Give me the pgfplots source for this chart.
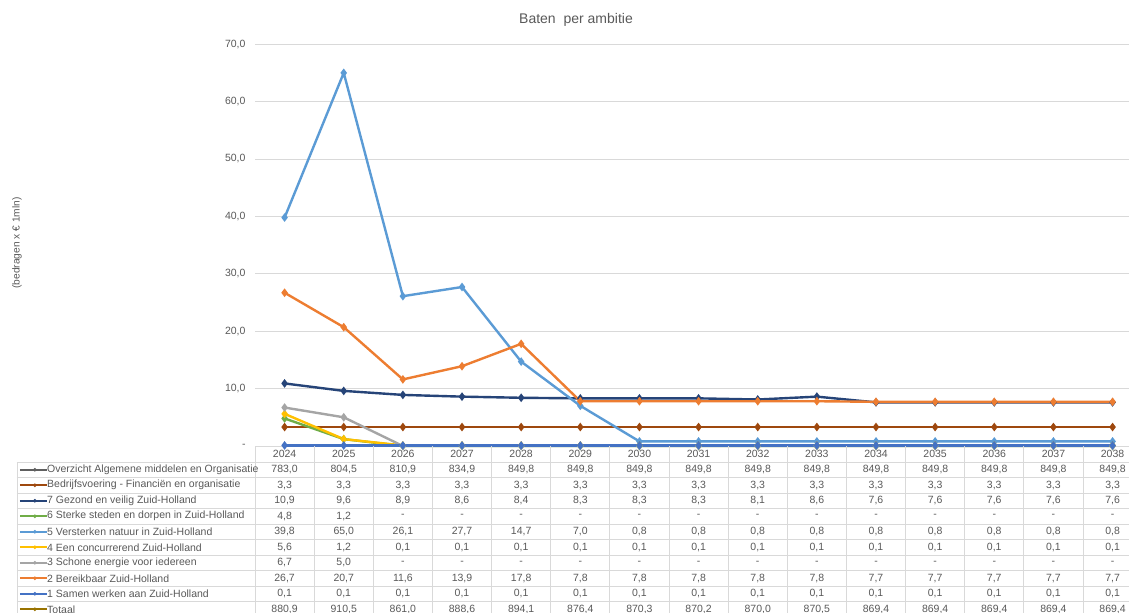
\documentclass[border=0pt]{standalone}
\usepackage{pgfplots}
\usepackage{pgfplotstable}
\pgfplotsset{compat=1.18}
\usepackage{fontspec}
\setmainfont{Liberation Sans}
\pgfkeys{/pgf/number format/assume math mode=true}

\definecolor{ovz}{HTML}{5F5F5F}
\definecolor{bed}{HTML}{9E480E}
\definecolor{g7}{HTML}{264478}
\definecolor{s6}{HTML}{70AD47}
\definecolor{n5}{HTML}{5B9BD5}
\definecolor{e4}{HTML}{FFC000}
\definecolor{s3}{HTML}{A5A5A5}
\definecolor{b2}{HTML}{ED7D31}
\definecolor{s1}{HTML}{4472C4}
\definecolor{tot}{HTML}{997300}
\definecolor{txtgray}{HTML}{595959}
\definecolor{gridgray}{HTML}{D9D9D9}

% baten per ambitie (bedragen x 1 mln), 0 = "-"
\pgfplotstableread{
year ovz bed g7 s6 n5 e4 s3 b2 s1 tot
2024 783.0 3.3 10.9 4.8 39.8 5.6 6.7 26.7 0.1 880.9
2025 804.5 3.3 9.6 1.2 65.0 1.2 5.0 20.7 0.1 910.5
2026 810.9 3.3 8.9 0 26.1 0.1 0 11.6 0.1 861.0
2027 834.9 3.3 8.6 0 27.7 0.1 0 13.9 0.1 888.6
2028 849.8 3.3 8.4 0 14.7 0.1 0 17.8 0.1 894.1
2029 849.8 3.3 8.3 0 7.0 0.1 0 7.8 0.1 876.4
2030 849.8 3.3 8.3 0 0.8 0.1 0 7.8 0.1 870.3
2031 849.8 3.3 8.3 0 0.8 0.1 0 7.8 0.1 870.2
2032 849.8 3.3 8.1 0 0.8 0.1 0 7.8 0.1 870.0
2033 849.8 3.3 8.6 0 0.8 0.1 0 7.8 0.1 870.5
2034 849.8 3.3 7.6 0 0.8 0.1 0 7.7 0.1 869.4
2035 849.8 3.3 7.6 0 0.8 0.1 0 7.7 0.1 869.4
2036 849.8 3.3 7.6 0 0.8 0.1 0 7.7 0.1 869.4
2037 849.8 3.3 7.6 0 0.8 0.1 0 7.7 0.1 869.4
2038 849.8 3.3 7.6 0 0.8 0.1 0 7.7 0.1 869.4
}\data

\begin{document}
\begin{tikzpicture}
% page = 1129 x 613 px, 1px = 1bp; tikz x = px-284.6, y = 446-py
\useasboundingbox (-284.6bp,-167bp) rectangle (844.4bp,446bp);
\begin{axis}[
    anchor=origin, at={(0,0)},
    x=59.14bp, y=5.74bp,
    xmin=-0.5, xmax=14.28, ymin=0, ymax=70,
    axis line style={draw=none},
    xtick=\empty,
    ytick={0,10,...,70},
    yticklabels={-,{10,0},{20,0},{30,0},{40,0},{50,0},{60,0},{70,0}},
    ymajorgrids, grid style={gridgray, line width=0.8bp},
    major tick length=0pt,
    yticklabel style={font=\fontsize{10.5bp}{12bp}\selectfont, text=txtgray, xshift=-6bp},
    clip=false,
    every axis plot/.append style={line width=2.4bp, mark=diamond*, mark size=2.4bp},
    table/x expr=\thisrow{year}-2024,
]
\addplot[bed, mark options={fill=bed}] table[y=bed] {\data};
\addplot[g7, mark options={fill=g7}] table[y=g7] {\data};
\addplot[s6, mark options={fill=s6}] table[y=s6] {\data};
\addplot[n5, mark options={fill=n5}] table[y=n5] {\data};
\addplot[e4, mark options={fill=e4}] table[y=e4] {\data};
\addplot[s3, mark options={fill=s3}] table[y=s3] {\data};
\addplot[b2, mark options={fill=b2}] table[y=b2] {\data};
\addplot[s1, mark options={fill=s1}] table[y=s1] {\data};
\end{axis}

% title and axis label
\node[text=txtgray, font=\fontsize{14bp}{16bp}\selectfont] at (291.4bp,426bp) {Baten\ \ per ambitie};
\node[text=txtgray, rotate=90, font=\fontsize{10.2bp}{12bp}\selectfont] at (-267.6bp,203bp) {(bedragen x € 1mln)};

% data table grid
\foreach \k in {0,...,9}
  \draw[gridgray, line width=0.8bp] (-267.6bp,{446bp-462bp-\k*15.5bp}) -- (844.4bp,{446bp-462bp-\k*15.5bp});
\foreach \k in {0,...,14}
  \draw[gridgray, line width=0.8bp] ({-29.57bp+\k*59.14bp},0bp) -- ({-29.57bp+\k*59.14bp},-167bp);
\draw[gridgray, line width=0.8bp] (-267.6bp,-16bp) -- (-267.6bp,-167bp);

% years
\foreach \i in {0,...,14}
  \node[text=txtgray, font=\fontsize{10.5bp}{12bp}\selectfont] at ({\i*59.14bp},-8bp)
    {\pgfmathparse{int(2024+\i)}\pgfmathresult};

% row labels with legend keys
\foreach \c/\lab [count=\row from 0] in {
    ovz/Overzicht Algemene middelen en Organisatie,
    bed/Bedrijfsvoering - Financiën en organisatie,
    g7/7 Gezond en veilig Zuid-Holland,
    s6/6 Sterke steden en dorpen in Zuid-Holland,
    n5/5 Versterken natuur in Zuid-Holland,
    e4/4 Een concurrerend Zuid-Holland,
    s3/3 Schone energie voor iedereen,
    b2/2 Bereikbaar Zuid-Holland,
    s1/1 Samen werken aan Zuid-Holland,
    tot/Totaal}{
  \pgfmathsetmacro{\ry}{446-469.75-\row*15.5}
  \draw[\c, line width=2bp] (-264.6bp,\ry bp) -- (-237.6bp,\ry bp);
  \fill[\c] (-249.6bp,{\ry bp+2bp}) -- (-247.6bp,\ry bp) -- (-249.6bp,{\ry bp-2bp}) -- (-251.6bp,\ry bp) -- cycle;
  \node[anchor=west, inner sep=0pt, text=txtgray, font=\fontsize{10.5bp}{12bp}\selectfont] at (-237.6bp,\ry bp) {\lab};
  \foreach \i in {0,...,14}{
    \pgfplotstablegetelem{\i}{\c}\of\data
    \let\cellval\pgfplotsretval
    \node[text=txtgray, font=\fontsize{10.5bp}{12bp}\selectfont] at ({\i*59.14bp},\ry bp)
      {\ifdim\cellval pt=0pt -\else\pgfmathprintnumber[fixed,fixed zerofill,precision=1,use comma]{\cellval}\fi};
  }
}
\end{tikzpicture}
\end{document}
